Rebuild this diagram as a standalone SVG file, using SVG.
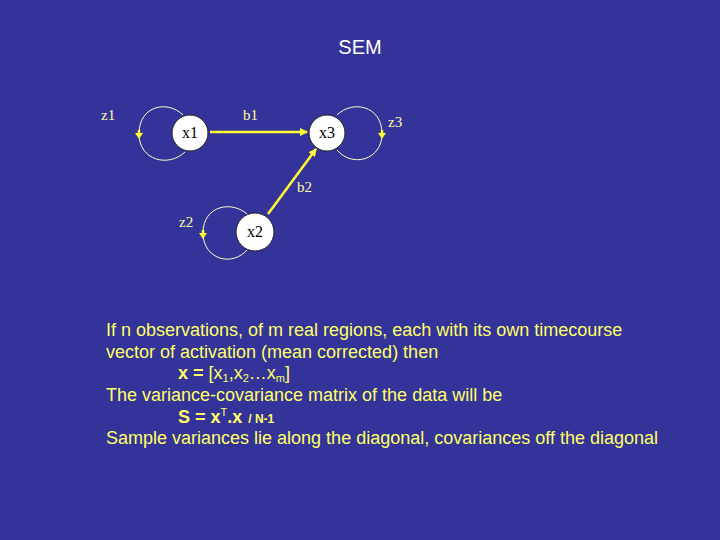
<svg xmlns="http://www.w3.org/2000/svg" width="720" height="540" viewBox="0 0 720 540">
<defs>
<style>
.lbl{font-family:"Liberation Serif",serif;font-size:15px;fill:#ffff99}
.nt{font-family:"Liberation Serif",serif;font-size:16px;fill:#000;text-anchor:middle}
.node{fill:#fff;stroke:#222;stroke-width:1}
.loop{fill:none;stroke:#ffffcc;stroke-width:1}
.edge{stroke:#ffff33;stroke-width:2.5;fill:none}
.body{font-family:"Liberation Sans",Arial,sans-serif;font-size:18px;fill:#ffff66}
</style>
<marker id="ah" markerWidth="8" markerHeight="8" refX="7" refY="4" orient="auto" markerUnits="userSpaceOnUse">
<path d="M0,0 L8,4 L0,8 z" fill="#ffff33"/>
</marker>
<marker id="sh" markerWidth="6" markerHeight="8" refX="3" refY="4" orient="auto" markerUnits="userSpaceOnUse">
<path d="M0,0 L6,4 L0,8 z" fill="#ffff33"/>
</marker>
</defs>
<rect width="720" height="540" fill="#333399"/>
<text x="360" y="54" text-anchor="middle" font-family="Liberation Sans,Arial,sans-serif" font-size="20" fill="#ffffff">SEM</text>
<g id="connectors">
<line class="edge" x1="210" y1="132" x2="307" y2="132" marker-end="url(#ah)"/>
<line class="edge" x1="268" y1="214" x2="316" y2="149" marker-end="url(#ah)"/>
<path class="loop" d="M183,115 C168,100 139,105 139,134 C139,160 168,168 185,152"/>
<path class="edge" d="M139,130 L139,136" stroke-width="0.1" marker-end="url(#sh)"/>
<path class="loop" d="M337,115 C352,100 382,105 382,134 C382,160 352,168 337,150"/>
<path class="edge" d="M382,130 L382,136" stroke-width="0.1" marker-end="url(#sh)"/>
<path class="loop" d="M248,215 C233,200 203,205 203,233 C203,259 232,268 248,249"/>
<path class="edge" d="M203,230 L203,236" stroke-width="0.1" marker-end="url(#sh)"/>
<text class="lbl" x="243" y="120">b1</text>
<text class="lbl" x="297" y="192">b2</text>
</g>
<g id="x1"><circle class="node" cx="190" cy="133" r="18"/><text class="nt" x="190" y="138">x1</text></g>
<g id="x3"><circle class="node" cx="327" cy="133" r="18"/><text class="nt" x="327" y="138">x3</text></g>
<g id="x2"><circle class="node" cx="255" cy="232" r="19"/><text class="nt" x="255" y="237">x2</text></g>
<g id="z1"><text class="lbl" x="101" y="120">z1</text></g>
<g id="z3"><text class="lbl" x="388" y="127">z3</text></g>
<g id="z2"><text class="lbl" x="179" y="227">z2</text></g>
<g id="body">
<text class="body" x="106" y="336">If n observations, of m real regions, each with its own timecourse</text>
<text class="body" x="106" y="358">vector  of activation (mean corrected) then</text>
<text class="body" x="178" y="379"><tspan font-weight="bold">x =</tspan> [x<tspan font-size="11" dy="3">1</tspan><tspan dy="-3">,x</tspan><tspan font-size="11" dy="3">2</tspan><tspan dy="-3">…x</tspan><tspan font-size="11" dy="3">m</tspan><tspan dy="-3">]</tspan></text>
<text class="body" x="106" y="401">The variance-covariance matrix of the data will be</text>
<text class="body" x="178" y="423" font-weight="bold">S = x<tspan font-size="11" font-weight="normal" dy="-7">T</tspan><tspan dy="7">.x</tspan><tspan font-size="12" dx="6">/ N-1</tspan></text>
<text class="body" x="106" y="444">Sample variances lie along the diagonal, covariances off the diagonal</text>
</g>
</svg>
